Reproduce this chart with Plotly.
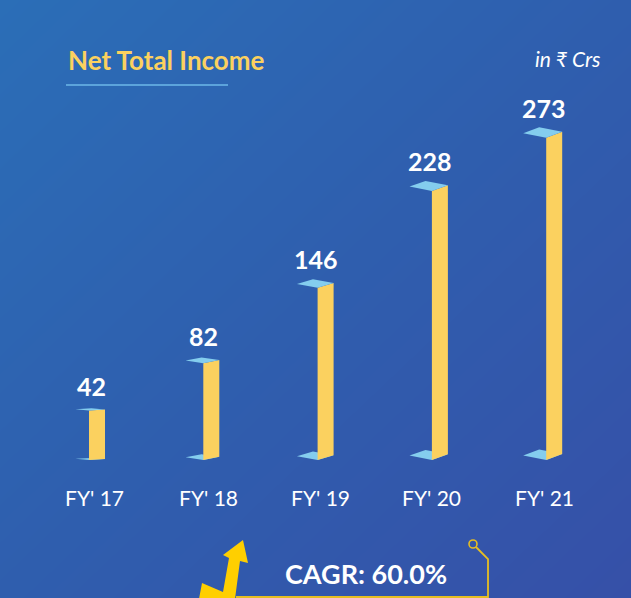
import plotly.graph_objects as go

categories = ["FY' 17", "FY' 18", "FY' 19", "FY' 20", "FY' 21"]
values = [42, 82, 146, 228, 273]
title_text = "Net Total Income"
unit_text = "in ₹ Crs"
cagr_text = "CAGR: 60.0%"

W, H = 631, 598
PX_X = 114.3      # pixels per category step
PX_Y = 1.18       # pixels per value unit
X_FIRST = 97      # pixel centre of first bar
Y_ZERO = 460      # pixel of value zero

xr0 = -X_FIRST / PX_X
xr1 = xr0 + W / PX_X
yr0 = -(H - Y_ZERO) / PX_Y
yr1 = yr0 + H / PX_Y

YELLOW = "#fbd15f"
CAP = "#84cdee"

fig = go.Figure()

# background gradient
fig.add_trace(go.Heatmap(
    x=[xr0, xr1], y=[yr0, yr1], z=[[0.5, 1.0], [0.0, 0.5]],
    zsmooth="best", showscale=False, hoverinfo="skip",
    colorscale=[[0, "#2b6eb7"], [0.5, "#2f5eae"], [1, "#3650a8"]],
))

def dxp(p):
    return p / PX_X

def dyp(p):
    return p / PX_Y

def poly(xs, ys, color):
    fig.add_trace(go.Scatter(
        x=xs + [xs[0]], y=ys + [ys[0]], mode="lines", fill="toself",
        fillcolor=color, line=dict(width=0, color=color), hoverinfo="skip",
        showlegend=False,
    ))

n = len(values)
for i, v in enumerate(values):
    d = 1 - 0.85 * (1 - i / (n - 1)) ** 2
    s = dyp(6 * d)
    a = dyp(4 * d + 0.6)
    e = dxp(12 + 11 * d)
    xl = i - dxp(8)
    xr = i + dxp(8)
    # bottom cap
    poly([xl, xr, xr - e, xl - e], [0, s, s + a, a], CAP)
    # front face
    poly([xl, xl, xr, xr], [0, v, v + s, s], YELLOW)
    # top cap
    poly([xl, xr, xr - e, xl - e], [v, v + s, v + s + a, v + a], CAP)
    e_px = 12 + 11 * d
    fig.add_annotation(x=i, y=v, text=f"<b>{v}</b>", showarrow=False,
                       xshift=-e_px / 2 + 1, yshift=24 + 6 * d, yanchor="middle",
                       font=dict(family="Lato", size=25, color="white"))
    fig.add_annotation(x=i, y=0, text=categories[i], showarrow=False,
                       xshift=-2 - 8 * d ** 4, yshift=-37, yanchor="middle",
                       font=dict(family="Lato", size=21, color="white"))

def P(px, py):
    return px / W, 1 - py / H

def path(pts, close=True):
    s = ""
    for k, (px, py) in enumerate(pts):
        x, y = P(px, py)
        s += ("M" if k == 0 else "L") + f"{x:.5f},{y:.5f} "
    return s + ("Z" if close else "")

shapes = []
# panel border strips (outer frame)
shapes.append(dict(type="rect", xref="paper", yref="paper", x0=0, x1=1, y0=P(0, 7)[1], y1=1,
                   fillcolor="rgba(10,25,70,0.10)", line=dict(width=0), layer="below"))
shapes.append(dict(type="rect", xref="paper", yref="paper", x0=0, x1=P(10, 0)[0], y0=0, y1=P(0, 7)[1],
                   fillcolor="rgba(10,25,70,0.10)", line=dict(width=0), layer="below"))
# title underline
shapes.append(dict(type="line", xref="paper", yref="paper",
                   x0=P(66, 85)[0], y0=P(66, 85)[1], x1=P(228, 85)[0], y1=P(228, 85)[1],
                   line=dict(color="#6cb8e8", width=1.5)))
# yellow arrow
arrow_pts = [(199, 599), (202, 583), (223, 592), (229, 558), (223, 555), (243, 540),
             (248, 563), (240, 561), (235, 599)]
shapes.append(dict(type="path", xref="paper", yref="paper", path=path(arrow_pts),
                   fillcolor="#ffcf00", line=dict(width=0)))
# connector line with circle
shapes.append(dict(type="path", xref="paper", yref="paper",
                   path=path([(476, 547), (488, 559), (488, 597), (236, 597)], close=False),
                   line=dict(color="#e6be22", width=1.8)))
cx0, cy0 = P(469, 548)
cx1, cy1 = P(477, 540)
shapes.append(dict(type="circle", xref="paper", yref="paper", x0=cx0, y0=cy0, x1=cx1, y1=cy1,
                   line=dict(color="#e6be22", width=1.6)))

fig.update_layout(shapes=shapes)

tx, ty = P(66, 60)
fig.add_annotation(xref="paper", yref="paper", x=tx, y=ty, xanchor="left", yanchor="middle",
                   text=f"<b>{title_text}</b>", showarrow=False,
                   font=dict(family="Lato", size=26, color="#fbd15f"))
ux, uy = P(603, 58)
fig.add_annotation(xref="paper", yref="paper", x=ux, y=uy, xanchor="right", yanchor="middle",
                   text=f"<i>{unit_text}</i>", showarrow=False,
                   font=dict(family="Lato", size=21, color="white"))
cx, cy = P(366, 573)
fig.add_annotation(xref="paper", yref="paper", x=cx, y=cy, xanchor="center", yanchor="middle",
                   text=f"<b>{cagr_text}</b>", showarrow=False,
                   font=dict(family="Lato", size=27, color="white"))

fig.update_layout(
    width=W, height=H, margin=dict(l=0, r=0, t=0, b=0),
    paper_bgcolor="#2d60ad", plot_bgcolor="#2d60ad",
    showlegend=False,
    xaxis=dict(range=[xr0, xr1], visible=False, fixedrange=True),
    yaxis=dict(range=[yr0, yr1], visible=False, fixedrange=True),
)

fig.write_html("out.html", config={"displayModeBar": False},
               post_script="document.body.style.margin='0';document.body.style.padding='0';document.body.style.overflow='hidden';")
